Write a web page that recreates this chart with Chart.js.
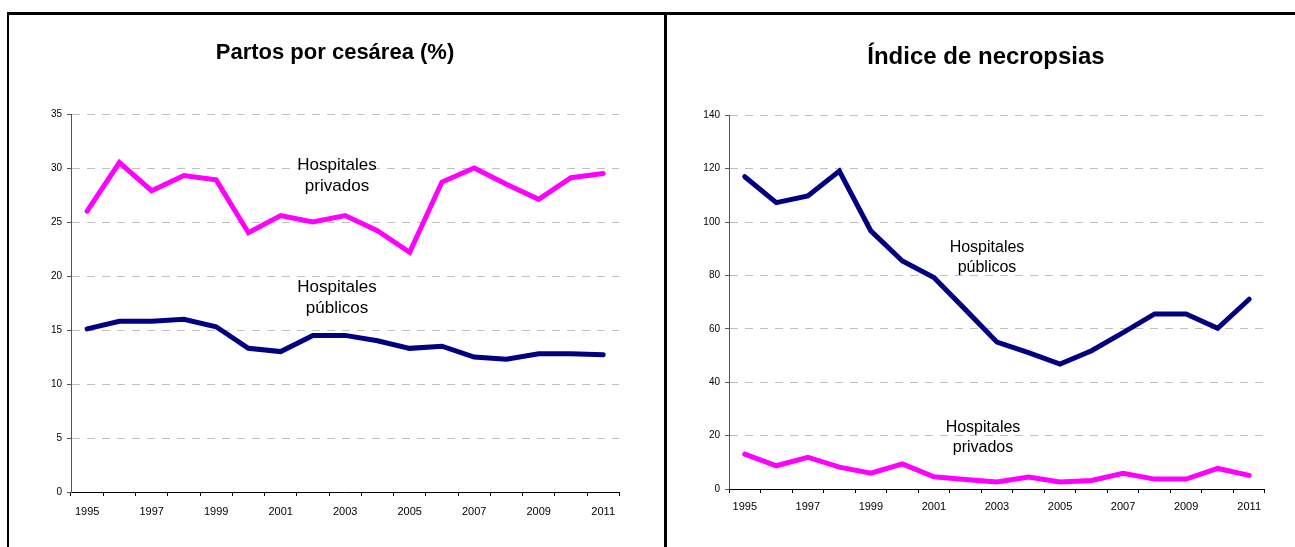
<!DOCTYPE html>
<html>
<head>
<meta charset="utf-8">
<script src="https://cdn.jsdelivr.net/npm/chart.js@4/dist/chart.umd.min.js"></script>
<style>
  html, body { margin: 0; padding: 0; background: #fff; }
  #wrap { position: relative; width: 1295px; height: 547px; overflow: hidden; background: #fff; }
  canvas { position: absolute; top: 0; }
  .bd { position: absolute; background: #000; }
</style>
</head>
<body>
<div id="wrap">
  <canvas id="c1" width="578" height="547" style="left:46px"></canvas>
  <canvas id="c2" width="564" height="547" style="left:704px"></canvas>
  <div class="bd" style="left:7px;top:12px;width:1288px;height:3px"></div>
  <div class="bd" style="left:7px;top:12px;width:2px;height:535px"></div>
  <div class="bd" style="left:664px;top:12px;width:3px;height:535px"></div>
</div>
<script>
// ---- data ----
const years = ['1995','1996','1997','1998','1999','2000','2001','2002','2003','2004','2005','2006','2007','2008','2009','2010','2011'];
const cesareaPrivados = [26.0, 30.5, 27.9, 29.3, 28.9, 24.0, 25.6, 25.0, 25.6, 24.2, 22.2, 28.7, 30.0, 28.5, 27.1, 29.1, 29.5];
const cesareaPublicos = [15.1, 15.8, 15.8, 16.0, 15.3, 13.3, 13.0, 14.5, 14.5, 14.0, 13.3, 13.5, 12.5, 12.3, 12.8, 12.8, 12.7];
const necropsiasPublicos = [117.0, 107.3, 109.8, 119.1, 96.7, 85.4, 79.2, 67.2, 55.0, 51.1, 46.8, 51.8, 58.6, 65.6, 65.6, 60.2, 71.1];
const necropsiasPrivados = [13.1, 8.7, 11.9, 8.2, 5.9, 9.4, 4.6, 3.6, 2.6, 4.5, 2.6, 3.2, 5.9, 3.7, 3.7, 7.7, 5.1];
const title1 = 'Partos por cesárea (%)';
const title2 = 'Índice de necropsias';
const labelPrivados = ['Hospitales', 'privados'];
const labelPublicos = ['Hospitales', 'públicos'];

Chart.defaults.font.family = "'Liberation Sans', Arial, sans-serif";
Chart.defaults.color = '#000';

const PINK = '#FF00FF';
const NAVY = '#000080';

const annotate = {
  id: 'annotate',
  afterDatasetsDraw(chart, args, opts) {
    const ctx = chart.ctx;
    ctx.save();
    ctx.fillStyle = '#000';
    ctx.textAlign = 'center';
    ctx.textBaseline = 'middle';
    ctx.font = opts.size + "px 'Liberation Sans', Arial, sans-serif";
    (opts.items || []).forEach(it => {
      it.lines.forEach((t, i) => ctx.fillText(t, it.x, it.y + i * opts.gap));
    });
    ctx.restore();
  }
};

function makeChart(id, cfg) {
  return new Chart(document.getElementById(id), {
    type: 'line',
    data: {
      labels: years,
      datasets: cfg.series.map(s => ({
        data: s.data,
        borderColor: s.color,
        backgroundColor: s.color,
        borderWidth: 5,
        pointRadius: 0,
        pointHoverRadius: 0,
        tension: 0,
        fill: false,
        borderCapStyle: 'round',
        borderJoinStyle: 'miter'
      }))
    },
    options: {
      responsive: false,
      animation: false,
      devicePixelRatio: 1,
      events: [],
      layout: { padding: 0 },
      plugins: {
        legend: { display: false },
        tooltip: { enabled: false },
        title: {
          display: true,
          text: cfg.title,
          color: '#000',
          font: { size: cfg.titleSize, weight: 'bold' },
          padding: { top: cfg.titleTop, bottom: cfg.titleBottom }
        },
        annotate: { size: cfg.annSize, gap: cfg.annGap, items: cfg.ann }
      },
      scales: {
        x: {
          type: 'category',
          offset: true,
          grid: {
            offset: true,
            drawOnChartArea: false,
            drawTicks: true,
            tickLength: 4,
            tickColor: '#000',
            tickWidth: 1
          },
          border: { display: true, color: '#000', width: 1 },
          ticks: {
            autoSkip: false,
            maxRotation: 0,
            minRotation: 0,
            padding: cfg.xPad,
            font: { size: 11 },
            color: '#000',
            callback: function(v, i) { return i % 2 === 0 ? years[i] : ''; }
          },
          afterFit: s => { s.height = cfg.xHeight; }
        },
        y: {
          min: 0,
          max: cfg.yMax,
          grid: {
            color: c => (c.tick && c.tick.value === 0) ? 'rgba(0,0,0,0)' : '#c0c0c0',
            lineWidth: 1,
            drawTicks: true,
            tickLength: 4,
            tickColor: '#555',
            tickWidth: 1
          },
          border: { display: true, color: '#555', width: 1, dash: [8, 7] },
          ticks: {
            stepSize: cfg.yStep,
            padding: 5,
            font: { size: 10 },
            color: '#000'
          },
          afterFit: s => { s.width = 25; }
        }
      }
    },
    plugins: [annotate]
  });
}

makeChart('c1', {
  title: title1, titleSize: 22, titleTop: 40, titleBottom: 47.6,
  yMax: 35, yStep: 5, xHeight: 55, xPad: 9,
  series: [
    { data: cesareaPrivados, color: PINK },
    { data: cesareaPublicos, color: NAVY }
  ],
  annSize: 17, annGap: 21.5,
  ann: [
    { lines: labelPrivados, x: 291, y: 165 },
    { lines: labelPublicos, x: 291, y: 287 }
  ]
});

makeChart('c2', {
  title: title2, titleSize: 24, titleTop: 42.5, titleBottom: 44,
  yMax: 140, yStep: 20, xHeight: 58, xPad: 7,
  series: [
    { data: necropsiasPublicos, color: NAVY },
    { data: necropsiasPrivados, color: PINK }
  ],
  annSize: 16, annGap: 20,
  ann: [
    { lines: labelPublicos, x: 283, y: 248 },
    { lines: labelPrivados, x: 279, y: 428 }
  ]
});
</script>
</body>
</html>
